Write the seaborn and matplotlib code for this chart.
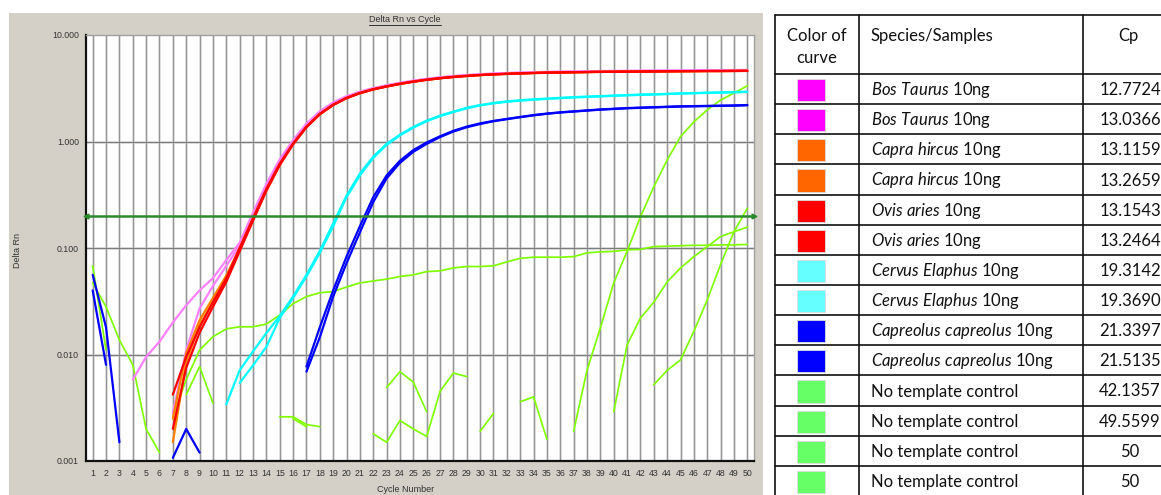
import numpy as np
import pandas as pd
import matplotlib
matplotlib.use("Agg")
import matplotlib.pyplot as plt
import seaborn as sns
from matplotlib.patches import Rectangle
from matplotlib.lines import Line2D
from matplotlib.transforms import IdentityTransform

n = np.nan
cycles = list(range(1, 51))

# ---- amplification curves (Delta Rn per cycle; nan = not shown on log scale) ----
bos_taurus_a = [n, n, n, 0.0058, 0.0095, 0.0132, 0.020, 0.029, 0.040, 0.052,
                0.077, 0.112, 0.215, 0.40, 0.68, 1.03, 1.47, 1.92, 2.33, 2.66,
                2.94, 3.17, 3.37, 3.56, 3.73, 3.88, 4.01, 4.12, 4.21, 4.29,
                4.35, 4.40, 4.44, 4.48, 4.51, 4.53, 4.55, 4.57, 4.59, 4.60,
                4.61, 4.62, 4.63, 4.64, 4.65, 4.66, 4.67, 4.68, 4.69, 4.70]
bos_taurus_b = [n, n, n, n, n, n, 0.0028, 0.011, 0.027, 0.044,
                0.068, 0.105, 0.20, 0.38, 0.65, 1.00, 1.43, 1.88, 2.28, 2.62,
                2.90, 3.14, 3.34, 3.53, 3.70, 3.85, 3.98, 4.09, 4.18, 4.26,
                4.32, 4.37, 4.41, 4.45, 4.48, 4.50, 4.52, 4.54, 4.56, 4.57,
                4.58, 4.60, 4.61, 4.62, 4.63, 4.64, 4.65, 4.66, 4.66, 4.67]
capra_a = [n, n, n, n, n, n, 0.0025, 0.0103, 0.021, 0.034,
           0.055, 0.100, 0.19, 0.355, 0.61, 0.95, 1.37, 1.81, 2.21, 2.56,
           2.85, 3.09, 3.29, 3.48, 3.65, 3.80, 3.93, 4.04, 4.13, 4.21,
           4.27, 4.32, 4.36, 4.40, 4.43, 4.45, 4.47, 4.49, 4.51, 4.52,
           4.53, 4.54, 4.55, 4.56, 4.57, 4.58, 4.59, 4.59, 4.60, 4.61]
capra_b = [n, n, n, n, n, n, 0.0015, 0.0085, 0.019, 0.031,
           0.050, 0.095, 0.185, 0.345, 0.60, 0.94, 1.36, 1.80, 2.20, 2.55,
           2.84, 3.08, 3.28, 3.47, 3.64, 3.79, 3.92, 4.03, 4.12, 4.20,
           4.26, 4.31, 4.35, 4.39, 4.42, 4.44, 4.46, 4.48, 4.50, 4.51,
           4.52, 4.53, 4.54, 4.55, 4.56, 4.57, 4.58, 4.58, 4.59, 4.60]
ovis_a = [n, n, n, n, n, n, 0.0042, 0.0095, 0.018, 0.031,
          0.052, 0.100, 0.19, 0.36, 0.62, 0.96, 1.38, 1.82, 2.22, 2.57,
          2.86, 3.10, 3.30, 3.49, 3.66, 3.81, 3.94, 4.05, 4.14, 4.22,
          4.28, 4.33, 4.37, 4.41, 4.44, 4.46, 4.48, 4.50, 4.52, 4.53,
          4.54, 4.55, 4.56, 4.57, 4.58, 4.59, 4.60, 4.60, 4.61, 4.62]
ovis_b = [n, n, n, n, n, n, 0.0020, 0.0075, 0.016, 0.028,
          0.048, 0.093, 0.18, 0.345, 0.60, 0.94, 1.36, 1.80, 2.20, 2.55,
          2.84, 3.08, 3.28, 3.47, 3.64, 3.79, 3.92, 4.03, 4.12, 4.20,
          4.26, 4.31, 4.35, 4.39, 4.42, 4.44, 4.46, 4.48, 4.50, 4.51,
          4.52, 4.53, 4.54, 4.55, 4.56, 4.57, 4.58, 4.58, 4.59, 4.60]
cervus_a = [n, n, n, n, n, n, n, n, n, n,
            0.0034, 0.0071, 0.0107, 0.0159, 0.023, 0.035, 0.056, 0.094, 0.17, 0.31,
            0.50, 0.72, 0.95, 1.16, 1.37, 1.57, 1.75, 1.91, 2.07, 2.20,
            2.30, 2.38, 2.44, 2.49, 2.53, 2.57, 2.61, 2.64, 2.67, 2.70,
            2.73, 2.76, 2.78, 2.80, 2.83, 2.85, 2.87, 2.89, 2.91, 2.93]
cervus_b = [n, n, n, n, n, n, n, n, n, n,
            n, 0.0054, 0.0079, 0.0118, 0.022, 0.034, 0.054, 0.090, 0.16, 0.30,
            0.48, 0.70, 0.93, 1.14, 1.35, 1.55, 1.73, 1.89, 2.05, 2.18,
            2.28, 2.36, 2.42, 2.47, 2.51, 2.55, 2.59, 2.62, 2.65, 2.68,
            2.71, 2.74, 2.76, 2.79, 2.82, 2.84, 2.86, 2.88, 2.90, 2.92]
capreolus_a = [0.056, 0.018, 0.0015, n, n, n, n, n, n, n,
               n, n, n, n, n, n, 0.0077, 0.018, 0.040, 0.083,
               0.16, 0.30, 0.48, 0.66, 0.83, 0.98, 1.12, 1.26, 1.38, 1.48,
               1.56, 1.63, 1.70, 1.77, 1.83, 1.88, 1.92, 1.96, 2.00, 2.03,
               2.06, 2.08, 2.10, 2.12, 2.14, 2.15, 2.16, 2.17, 2.18, 2.20]
capreolus_b = [0.040, 0.008, n, n, n, n, 0.00107, 0.0020, 0.0012, n,
               n, n, n, n, n, n, 0.0069, 0.0145, 0.035, 0.072,
               0.14, 0.27, 0.45, 0.63, 0.80, 0.95, 1.10, 1.24, 1.36, 1.46,
               1.55, 1.62, 1.69, 1.76, 1.82, 1.87, 1.91, 1.95, 1.99, 2.02,
               2.05, 2.07, 2.09, 2.11, 2.13, 2.14, 2.15, 2.16, 2.17, 2.19]
ntc_a = [0.068, 0.011, n, n, n, n, n, 0.0042, 0.0077, 0.0035,
         n, n, n, n, 0.0026, 0.0026, 0.0022, 0.0021, n, n,
         n, n, 0.0049, 0.0069, 0.0055, 0.0029, n, n, n, 0.0019,
         0.0028, n, 0.0036, 0.0040, 0.0016, n, 0.0019, 0.0071, 0.0178, 0.047,
         0.093, 0.196, 0.376, 0.67, 1.11, 1.53, 1.98, 2.45, 2.85, 3.33]
ntc_b = [0.047, 0.028, 0.0137, 0.008, 0.002, 0.0012, n, n, n, n,
         n, n, n, n, n, 0.0025, 0.0021, n, n, n,
         n, 0.0018, 0.0015, 0.0024, 0.0020, 0.0017, 0.0045, 0.0067, 0.0062, n,
         n, n, n, n, n, n, n, n, n, n,
         n, n, 0.0052, 0.0071, 0.0089, 0.0165, 0.0325, 0.070, 0.142, 0.236]
ntc_c = [n, n, n, n, n, n, 0.0026, 0.0058, 0.011, 0.0147,
         0.0174, 0.0182, 0.0182, 0.0193, 0.0235, 0.030, 0.035, 0.038, 0.039, 0.043,
         0.047, 0.049, 0.051, 0.054, 0.056, 0.060, 0.061, 0.065, 0.067, 0.067,
         0.068, 0.074, 0.080, 0.082, 0.082, 0.082, 0.083, 0.090, 0.092, 0.093,
         0.096, 0.097, 0.103, 0.104, 0.105, 0.106, 0.106, 0.107, 0.107, 0.108]
ntc_d = [n] * 39 + [0.0029, 0.0123, 0.022, 0.031, 0.048, 0.065, 0.083, 0.103, 0.128, 0.142, 0.157]

# draw order: green first, red last
ntc_names = ["NTC a", "NTC b", "NTC c", "NTC d"]
ntc_values = [ntc_a, ntc_b, ntc_c, ntc_d]
ntc_color = "#80ff00"
sample_names = ["Capreolus a", "Capreolus b", "Cervus a", "Cervus b",
                "Bos a", "Bos b", "Capra a", "Capra b", "Ovis a", "Ovis b"]
sample_values = [capreolus_a, capreolus_b, cervus_a, cervus_b,
                 bos_taurus_a, bos_taurus_b, capra_a, capra_b, ovis_a, ovis_b]
sample_colors = ["#0000ff", "#0000ff", "#00ffff", "#00ffff",
                 "#ff80ff", "#ff80ff", "#ff8000", "#ff8000", "#ff0000", "#ff0000"]

threshold = 0.2
y_ticks = [0.001, 0.01, 0.1, 1, 10]
y_tick_labels = ["0.001", "0.010", "0.100", "1.000", "10.000"]

# ---- table ----
table_colors = ["#ff00ff", "#ff00ff", "#ff6600", "#ff6600", "#ff0000", "#ff0000",
                "#66ffff", "#66ffff", "#0000ff", "#0000ff",
                "#66ff66", "#66ff66", "#66ff66", "#66ff66"]
table_species = ["Bos\\ Taurus", "Bos\\ Taurus", "Capra\\ hircus", "Capra\\ hircus",
                 "Ovis\\ aries", "Ovis\\ aries", "Cervus\\ Elaphus", "Cervus\\ Elaphus",
                 "Capreolus\\ capreolus", "Capreolus\\ capreolus",
                 "", "", "", ""]
table_suffix = [" 10ng"] * 10 + ["No template control"] * 4
table_cp = ["12.7724", "13.0366", "13.1159", "13.2659", "13.1543", "13.2464",
            "19.3142", "19.3690", "21.3397", "21.5135",
            "42.1357", "49.5599", "50", "50"]

# ---------------------------------------------------------------------
sns.set_theme(style="white")
plt.rcParams["font.family"] = ["Liberation Sans", "DejaVu Sans"]
plt.rcParams["mathtext.fontset"] = "custom"
plt.rcParams["mathtext.rm"] = "Lato"
plt.rcParams["mathtext.it"] = "Lato:italic"

W, H = 1161, 495
fig = plt.figure(figsize=(W / 100, H / 100), dpi=100)
fig.patch.set_facecolor("white")

fig.add_artist(Rectangle((9 / W, 0), (763 - 9) / W, (495 - 13) / H,
                         transform=fig.transFigure, facecolor="#d4d0c8",
                         edgecolor="none", zorder=0))

ax = fig.add_axes([86 / W, (495 - 461) / H, (754 - 86) / W, (461 - 35) / H])
ax.set_facecolor("white")
ax.set_yscale("log")


def long_frame(names, values):
    rows = []
    for name, vals in zip(names, values):
        seg, gap = 0, True
        for c, v in zip(cycles, vals):
            if np.isnan(v):
                gap = True
                continue
            if gap:
                seg += 1
                gap = False
            rows.append((c, v, name, f"{name}#{seg}"))
    return pd.DataFrame(rows, columns=["cycle", "value", "sample", "segment"])


df_ntc = long_frame(ntc_names, ntc_values)
df_smp = long_frame(sample_names, sample_values)

sns.lineplot(data=df_ntc, x="cycle", y="value", hue="sample", units="segment",
             estimator=None, sort=False, hue_order=ntc_names,
             palette={k: ntc_color for k in ntc_names},
             legend=False, linewidth=1.25, ax=ax, zorder=3)
sns.lineplot(data=df_smp, x="cycle", y="value", hue="sample", units="segment",
             estimator=None, sort=False, hue_order=sample_names,
             palette=dict(zip(sample_names, sample_colors)),
             legend=False, linewidth=1.6, ax=ax, zorder=4)

# grid
for c in cycles:
    ax.axvline(c, color="#dadada", lw=2.0, zorder=0.5)
    ax.axvline(c, color="#939393", lw=0.7, zorder=0.6)
for t in y_ticks[1:-1]:
    ax.axhline(t, color="#dadada", lw=2.0, zorder=0.5)
    ax.axhline(t, color="#7d7d7d", lw=0.8, zorder=0.6)

# threshold
ax.axhline(threshold, color="#2b8a2b", lw=1.8, zorder=6)
ax.plot([0.5], [threshold], marker="<", color="#2b8a2b", ms=3.5, clip_on=False, zorder=7)
ax.plot([50.5], [threshold], marker=">", color="#2b8a2b", ms=3.5, clip_on=False, zorder=7)

ax.set_xlim(0.5, 50.5)
ax.set_ylim(0.001, 10)
ax.set_xticks(cycles)
ax.set_xticklabels([str(c) for c in cycles])
ax.set_yticks(y_ticks)
ax.set_yticklabels(y_tick_labels)
ax.minorticks_off()
ax.tick_params(axis="both", length=0, labelsize=6.3, colors="#333333")
ax.tick_params(axis="x", pad=6)
ax.tick_params(axis="y", pad=5)
ax.set_xlabel("")
ax.set_ylabel("")
for s in ["left", "bottom"]:
    ax.spines[s].set_color("#111111")
    ax.spines[s].set_linewidth(1.6)
for s in ["top", "right"]:
    ax.spines[s].set_color("#a0a0a0")
    ax.spines[s].set_linewidth(1.0)

title = fig.text(405 / W, 1 - 20 / H, "Delta Rn vs Cycle", ha="center", va="center",
                 fontsize=6.5, color="#333333")
fig.text(406 / W, 1 - 494 / H, "Cycle Number", ha="center", va="bottom",
         fontsize=6.5, color="#333333")
fig.text(18 / W, 1 - 250 / H, "Delta Rn", ha="center", va="center", rotation=90,
         fontsize=6.5, color="#333333")

# ---- table axes (pixel-like coordinates) ----
tax = fig.add_axes([775 / W, (495 - 496) / H, (1177 - 775) / W, (496 - 15) / H])
tax.set_xlim(775, 1177)
tax.set_ylim(496, 15)
tax.axis("off")

row_edges = [15] + list(np.linspace(74, 496, 15))
for y in row_edges:
    tax.plot([775, 1177], [y, y], color="#111111", lw=1.2, clip_on=False)
for x in [775, 859, 1083, 1177]:
    tax.plot([x, x], [15, 496], color="#111111", lw=1.2, clip_on=False)

tfont = dict(family="Lato", fontsize=12, color="#111111")
tax.text(817, 36, "Color of", ha="center", va="center", **tfont)
tax.text(817, 58, "curve", ha="center", va="center", **tfont)
tax.text(871, 36, "Species/Samples", ha="left", va="center", **tfont)
tax.text(1128, 36, "Cp", ha="center", va="center", **tfont)

for i in range(14):
    top, bot = row_edges[i + 1], row_edges[i + 2]
    mid = (top + bot) / 2
    tax.add_patch(Rectangle((797, top + 5), 28, bot - top - 8,
                            facecolor=table_colors[i], edgecolor="#dddddd", lw=0.6))
    if table_species[i]:
        label = r"$\mathit{" + table_species[i] + "}$" + table_suffix[i]
    else:
        label = table_suffix[i]
    tax.text(871, mid + 1, label, ha="left", va="center", **tfont)
    tax.text(1130, mid + 1, table_cp[i], ha="center", va="center", **tfont)

# underline title
fig.canvas.draw()
bb = title.get_window_extent()
fig.add_artist(Line2D([bb.x0, bb.x1], [bb.y0 - 0.5, bb.y0 - 0.5], transform=IdentityTransform(),
                      color="#333333", lw=0.7))

fig.savefig("out.png", dpi=100)
